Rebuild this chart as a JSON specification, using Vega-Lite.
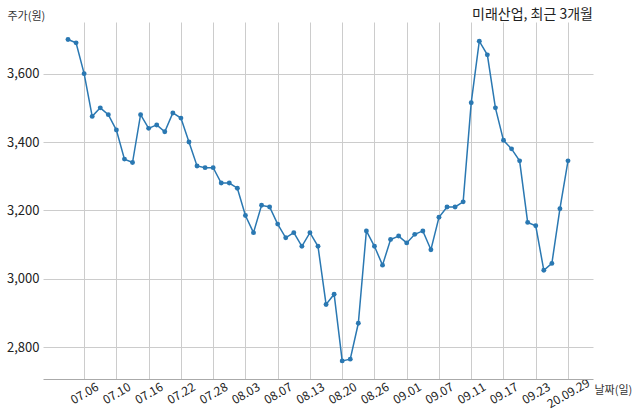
{
  "$schema": "https://vega.github.io/schema/vega-lite/v6.json",
  "autosize": "none",
  "width": 550,
  "height": 357,
  "padding": {"left": 43, "top": 22, "right": 47, "bottom": 40},
  "background": "white",
  "title": {
    "text": "미래산업, 최근 3개월",
    "anchor": "end",
    "frame": "group",
    "dy": 16,
    "fontSize": 14,
    "fontWeight": "normal",
    "color": "#222222",
    "font": "Noto Sans CJK KR"
  },
  "data": {
    "values": [
      {"date": "2020-07-02", "price": 3700},
      {"date": "2020-07-03", "price": 3690},
      {"date": "2020-07-06", "price": 3600},
      {"date": "2020-07-07", "price": 3475},
      {"date": "2020-07-08", "price": 3500},
      {"date": "2020-07-09", "price": 3480},
      {"date": "2020-07-10", "price": 3435},
      {"date": "2020-07-13", "price": 3350},
      {"date": "2020-07-14", "price": 3340},
      {"date": "2020-07-15", "price": 3480},
      {"date": "2020-07-16", "price": 3440},
      {"date": "2020-07-17", "price": 3450},
      {"date": "2020-07-20", "price": 3430},
      {"date": "2020-07-21", "price": 3485},
      {"date": "2020-07-22", "price": 3470},
      {"date": "2020-07-23", "price": 3400},
      {"date": "2020-07-24", "price": 3330},
      {"date": "2020-07-27", "price": 3325},
      {"date": "2020-07-28", "price": 3325},
      {"date": "2020-07-29", "price": 3280},
      {"date": "2020-07-30", "price": 3280},
      {"date": "2020-07-31", "price": 3265},
      {"date": "2020-08-03", "price": 3185},
      {"date": "2020-08-04", "price": 3135},
      {"date": "2020-08-05", "price": 3215},
      {"date": "2020-08-06", "price": 3210},
      {"date": "2020-08-07", "price": 3160},
      {"date": "2020-08-10", "price": 3120},
      {"date": "2020-08-11", "price": 3135},
      {"date": "2020-08-12", "price": 3095},
      {"date": "2020-08-13", "price": 3135},
      {"date": "2020-08-14", "price": 3095},
      {"date": "2020-08-18", "price": 2925},
      {"date": "2020-08-19", "price": 2955},
      {"date": "2020-08-20", "price": 2760},
      {"date": "2020-08-21", "price": 2765},
      {"date": "2020-08-24", "price": 2870},
      {"date": "2020-08-25", "price": 3140},
      {"date": "2020-08-26", "price": 3095},
      {"date": "2020-08-27", "price": 3040},
      {"date": "2020-08-28", "price": 3115},
      {"date": "2020-08-31", "price": 3125},
      {"date": "2020-09-01", "price": 3105},
      {"date": "2020-09-02", "price": 3130},
      {"date": "2020-09-03", "price": 3140},
      {"date": "2020-09-04", "price": 3085},
      {"date": "2020-09-07", "price": 3180},
      {"date": "2020-09-08", "price": 3210},
      {"date": "2020-09-09", "price": 3210},
      {"date": "2020-09-10", "price": 3225},
      {"date": "2020-09-11", "price": 3515},
      {"date": "2020-09-14", "price": 3695},
      {"date": "2020-09-15", "price": 3655},
      {"date": "2020-09-16", "price": 3500},
      {"date": "2020-09-17", "price": 3405},
      {"date": "2020-09-18", "price": 3380},
      {"date": "2020-09-21", "price": 3345},
      {"date": "2020-09-22", "price": 3165},
      {"date": "2020-09-23", "price": 3155},
      {"date": "2020-09-24", "price": 3025},
      {"date": "2020-09-25", "price": 3045},
      {"date": "2020-09-28", "price": 3205},
      {"date": "2020-09-29", "price": 3345}
    ]
  },
  "transform": [
    {"window": [{"op": "row_number", "as": "day"}], "sort": [{"field": "date"}]}
  ],
  "mark": {
    "type": "line",
    "color": "#2a78b2",
    "strokeWidth": 1.5,
    "point": {"filled": true, "size": 24, "color": "#2a78b2"}
  },
  "encoding": {
    "x": {
      "field": "day",
      "type": "quantitative",
      "scale": {"domain": [-2.1, 66.1], "nice": false, "zero": false},
      "axis": {
        "values": [3, 7, 11, 15, 19, 23, 27, 31, 35, 39, 43, 47, 51, 55, 59, 63],
        "labelExpr": "['07.06', '07.10', '07.16', '07.22', '07.28', '08.03', '08.07', '08.13', '08.20', '08.26', '09.01', '09.07', '09.11', '09.17', '09.23', '20.09.29'][(datum.value - 3) / 4]",
        "labelAngle": -30,
        "labelAlign": "center",
        "labelBaseline": "middle",
        "labelPadding": 14,
        "labelOverlap": false,
        "labelBound": false,
        "labelFlush": false,
        "labelFontSize": 12,
        "ticks": false,
        "grid": true,
        "domainColor": "#aaaaaa",
        "title": "날짜(일)",
        "titleX": 551,
        "titleY": 14,
        "titleAlign": "left",
        "titleBaseline": "alphabetic",
        "titleAnchor": null
      }
    },
    "y": {
      "field": "price",
      "type": "quantitative",
      "scale": {"domain": [2707, 3751], "nice": false, "zero": false},
      "axis": {
        "values": [2800, 3000, 3200, 3400, 3600],
        "format": ",d",
        "domain": false,
        "ticks": false,
        "labelPadding": 4,
        "labelFontSize": 13,
        "title": "주가(원)",
        "titleAngle": 0,
        "titleX": -36,
        "titleY": -3,
        "titleAlign": "left",
        "titleBaseline": "alphabetic"
      }
    }
  },
  "config": {
    "font": "Noto Sans CJK KR",
    "view": {"stroke": null},
    "axis": {
      "gridColor": "#cccccc",
      "gridWidth": 1,
      "labelColor": "#222222",
      "titleColor": "#333333",
      "titleFontSize": 11,
      "titleFontWeight": "normal"
    }
  }
}
